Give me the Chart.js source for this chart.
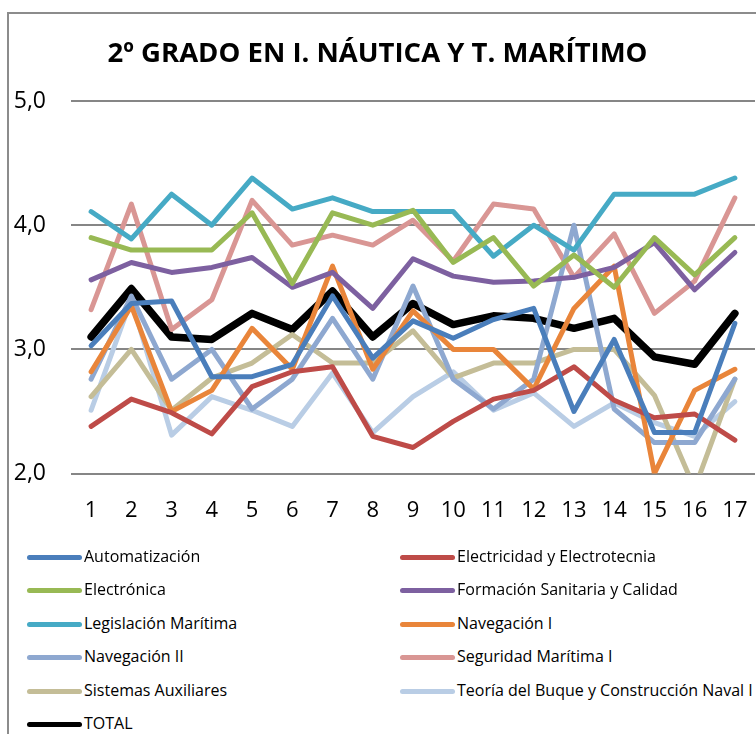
<!DOCTYPE html>
<html>
<head>
<meta charset="utf-8">
<script src="https://cdn.jsdelivr.net/npm/chart.js@4/dist/chart.umd.min.js"></script>
<style>
  body { margin: 0; background: #fff; font-family: "Open Sans", sans-serif; }
  #wrap { position: relative; width: 756px; height: 734px; overflow: hidden; }
  #frame { position: absolute; left: 7px; top: 12px; width: 800px; height: 800px;
           border-left: 2px solid #8c8c8c; border-top: 2px solid #8c8c8c; }
  #chartBox { position: absolute; left: 0; top: 0; width: 756px; height: 558px; }
  #legend { position: absolute; left: 27px; top: 540px; width: 760px; }
  .item { position: absolute; height: 20px; white-space: nowrap; font-size: 16px; color: #000; }
  .item span.swatch { position: absolute; left: 0; top: 8px; width: 55px; height: 5px; border-radius: 3px; }
  .item span.txt { position: absolute; left: 57px; top: -2px; }
</style>
</head>
<body>
<div id="wrap">
  <div id="frame"></div>
  <div id="chartBox"><canvas id="lineChart"></canvas></div>
  <div id="legend"></div>
</div>
<script>
var labels = ['1','2','3','4','5','6','7','8','9','10','11','12','13','14','15','16','17'];

var automatizacion = [3.03,3.37,3.39,2.78,2.78,2.88,3.43,2.93,3.23,3.09,3.24,3.33,2.50,3.08,2.33,2.33,3.21];
var electricidad   = [2.38,2.60,2.49,2.32,2.70,2.82,2.86,2.30,2.21,2.42,2.60,2.67,2.86,2.59,2.45,2.48,2.27];
var electronica    = [3.90,3.80,3.80,3.80,4.10,3.53,4.10,4.00,4.12,3.70,3.90,3.51,3.76,3.50,3.90,3.60,3.90];
var formacion      = [3.56,3.70,3.62,3.66,3.74,3.50,3.62,3.33,3.73,3.59,3.54,3.55,3.58,3.66,3.86,3.48,3.78];
var legislacion    = [4.11,3.89,4.25,4.00,4.38,4.13,4.22,4.11,4.11,4.11,3.75,4.00,3.80,4.25,4.25,4.25,4.38];
var navegacion1    = [2.82,3.35,2.50,2.67,3.17,2.84,3.67,2.84,3.31,3.00,3.00,2.68,3.33,3.67,2.00,2.67,2.84];
var navegacion2    = [2.76,3.43,2.76,3.00,2.52,2.76,3.25,2.76,3.51,2.76,2.52,2.76,4.00,2.52,2.25,2.25,2.76];
var seguridad      = [3.32,4.17,3.16,3.40,4.20,3.84,3.92,3.84,4.04,3.71,4.17,4.13,3.58,3.93,3.29,3.55,4.22];
var sistemas       = [2.62,3.00,2.51,2.77,2.89,3.12,2.89,2.89,3.15,2.77,2.89,2.89,3.00,3.00,2.63,1.88,2.76];
var teoria         = [2.51,3.40,2.31,2.62,2.51,2.38,2.81,2.33,2.62,2.82,2.51,2.65,2.38,2.57,2.41,2.30,2.58];
var total          = [3.10,3.49,3.10,3.08,3.29,3.16,3.47,3.10,3.37,3.20,3.27,3.25,3.17,3.25,2.94,2.88,3.29];

var yTicks = [2, 3, 4, 5];

function serie(label, data, color, width) {
    return {
        label: label,
        data: data,
        borderColor: color,
        backgroundColor: color,
        borderWidth: width || 5,
        pointRadius: 0,
        tension: 0,
        borderCapStyle: 'round',
        borderJoinStyle: 'round',
        fill: false
    };
}

var datasets = [
    serie('Automatización', automatizacion, '#4A7EBB'),
    serie('Electricidad y Electrotecnia', electricidad, '#BE4B48'),
    serie('Electrónica', electronica, '#98B954'),
    serie('Formación Sanitaria y Calidad', formacion, '#7D60A0'),
    serie('Legislación Marítima', legislacion, '#46AAC5'),
    serie('Navegación I', navegacion1, '#E9853A'),
    serie('Navegación II', navegacion2, '#8EA8D0'),
    serie('Seguridad Marítima I', seguridad, '#D99694'),
    serie('Sistemas Auxiliares', sistemas, '#C4BD97'),
    serie('Teoría del Buque y Construcción Naval I', teoria, '#B9CDE5'),
    serie('TOTAL', total, '#000000', 7.5)
];

var ctx = document.getElementById('lineChart');
var lineChart = new Chart(ctx, {
    type: 'line',
    data: { labels: labels, datasets: datasets },
    options: {
        responsive: true,
        maintainAspectRatio: false,
        animation: false,
        layout: { padding: { left: 0, right: 1, top: 0, bottom: 10 } },
        plugins: {
            legend: { display: false },
            tooltip: { enabled: false },
            title: {
                display: true,
                text: '2º GRADO EN I. NÁUTICA Y T. MARÍTIMO',
                color: '#000',
                font: { family: 'Open Sans', size: 27.5, weight: 'bold' },
                padding: { top: 38, bottom: 30 }
            }
        },
        scales: {
            x: {
                offset: true,
                afterFit: function (scale) { scale.paddingLeft = 0; scale.paddingRight = 0; },
                grid: { display: false, drawTicks: false },
                border: { display: false },
                ticks: { color: '#000', padding: 24, font: { family: 'Open Sans', size: 22 } }
            },
            y: {
                min: 2,
                max: 5,
                afterFit: function (scale) { scale.width = 71; },
                afterBuildTicks: function (scale) {
                    scale.ticks = yTicks.map(function (v) { return { value: v }; });
                },
                grid: { color: '#868686', lineWidth: 2, drawTicks: false },
                border: { display: false },
                ticks: {
                    color: '#000',
                    padding: 25,
                    font: { family: 'Open Sans', size: 23 },
                    callback: function (v) { return v.toFixed(1).replace('.', ','); }
                }
            }
        }
    }
});

// legend in two columns, built from the chart datasets
var legendDiv = document.getElementById('legend');
lineChart.data.datasets.forEach(function (ds, i) {
    var col = i % 2, row = Math.floor(i / 2);
    var item = document.createElement('div');
    item.className = 'item';
    item.style.left = (col * 373) + 'px';
    item.style.top = (row * 33.4 + 7) + 'px';
    item.innerHTML = '<span class="swatch" style="background:' + ds.borderColor + '"></span>' +
                     '<span class="txt">' + ds.label + '</span>';
    legendDiv.appendChild(item);
});
</script>
</body>
</html>
